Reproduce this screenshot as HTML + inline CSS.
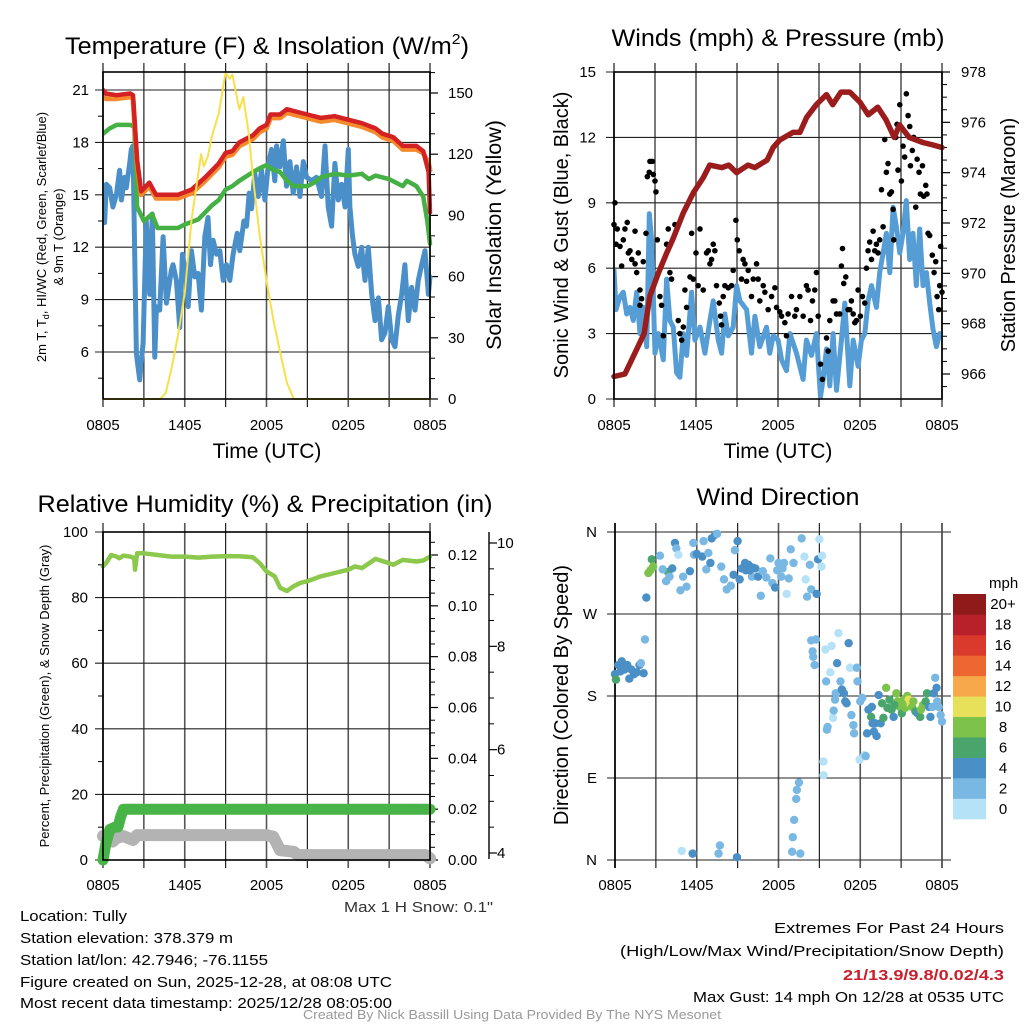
<!DOCTYPE html>
<html><head><meta charset="utf-8"><style>
html,body{margin:0;padding:0;background:#fff;}
svg{display:block;font-family:"Liberation Sans",Arial,sans-serif;}
</style></head><body>
<svg id="fig" width="1024" height="1024" viewBox="0 0 1024 1024" xmlns="http://www.w3.org/2000/svg">
<rect width="1024" height="1024" fill="#fff"/>
<g id="p1"></g>
<g id="p2"></g>
<g id="p3"></g>
<g id="p4"></g>
<g font-size="24" text-anchor="middle" fill="#000">
<text x="267" y="54" textLength="404" lengthAdjust="spacingAndGlyphs">Temperature (F) &amp; Insolation (W/m<tspan font-size="15" dy="-10">2</tspan><tspan dy="10">)</tspan></text>
<text x="778" y="46" textLength="333" lengthAdjust="spacingAndGlyphs">Winds (mph) &amp; Pressure (mb)</text>
<text x="265" y="512" textLength="455" lengthAdjust="spacingAndGlyphs">Relative Humidity (%) &amp; Precipitation (in)</text>
<text x="778" y="505" textLength="163" lengthAdjust="spacingAndGlyphs">Wind Direction</text>
</g>
<g font-size="21" text-anchor="middle">
<text x="267" y="458">Time (UTC)</text>
<text x="778" y="458">Time (UTC)</text>
<text transform="translate(501,235) rotate(-90)" font-size="21.5">Solar Insolation (Yellow)</text>
<text transform="translate(568,235) rotate(-90)" font-size="20">Sonic Wind &amp; Gust (Blue, Black)</text>
<text transform="translate(1015,235) rotate(-90)" font-size="20">Station Pressure (Maroon)</text>
<text transform="translate(568,695) rotate(-90)" font-size="20">Direction (Colored By Speed)</text>
</g>
<g font-size="13" text-anchor="middle">
<text transform="translate(46,237) rotate(-90)">2m T, T<tspan font-size="9" dy="3">d</tspan><tspan dy="-3">, HI/WC (Red, Green, Scarlet/Blue)</tspan></text>
<text transform="translate(63,237) rotate(-90)">&amp; 9m T (Orange)</text>
<text transform="translate(49,696) rotate(-90)">Percent, Precipitation (Green), &amp; Snow Depth (Gray)</text>
</g>
<g font-size="15" fill="#000">
<text x="344" y="912" textLength="149" lengthAdjust="spacingAndGlyphs" fill="#333">Max 1 H Snow: 0.1"</text>
<text x="20" y="921" textLength="107" lengthAdjust="spacingAndGlyphs">Location: Tully</text>
<text x="20" y="943" textLength="213" lengthAdjust="spacingAndGlyphs">Station elevation: 378.379 m</text>
<text x="20" y="965" textLength="248" lengthAdjust="spacingAndGlyphs">Station lat/lon: 42.7946; -76.1155</text>
<text x="20" y="987" textLength="372" lengthAdjust="spacingAndGlyphs">Figure created on Sun, 2025-12-28, at 08:08 UTC</text>
<text x="20" y="1008" textLength="372" lengthAdjust="spacingAndGlyphs">Most recent data timestamp: 2025/12/28 08:05:00</text>
<text x="774" y="933" textLength="230" lengthAdjust="spacingAndGlyphs">Extremes For Past 24 Hours</text>
<text x="620" y="956" textLength="384" lengthAdjust="spacingAndGlyphs">(High/Low/Max Wind/Precipitation/Snow Depth)</text>
<text x="843" y="980" textLength="161" lengthAdjust="spacingAndGlyphs" fill="#c8202c" font-weight="bold">21/13.9/9.8/0.02/4.3</text>
<text x="693" y="1002" textLength="311" lengthAdjust="spacingAndGlyphs">Max Gust: 14 mph On 12/28 at 0535 UTC</text>
<text x="303" y="1019" font-size="13" textLength="418" lengthAdjust="spacingAndGlyphs" fill="#999">Created By Nick Bassill Using Data Provided By The NYS Mesonet</text>
</g>
</svg>
<script>
// ---------- Panel 1 data ----------
const tempRed=[[0,21],[0.2,20.8],[1,20.7],[2,20.8],[2.2,20.7],[2.5,17],[2.8,15.2],[3.4,15.7],[3.9,15.0],[5.5,15.0],[6.5,15.3],[7.5,16.0],[8.5,16.8],[9.0,17.4],[9.5,17.5],[10,18.0],[11,18.4],[11.5,18.8],[12,19.0],[12.3,19.6],[13,19.6],[13.5,19.9],[14,19.8],[15,19.6],[16,19.4],[17,19.5],[18,19.3],[19,19.1],[20,18.8],[20.5,18.5],[21.3,18.3],[22,17.8],[23,17.8],[23.5,17.5],[23.9,16.3],[24,14.0]];
const tempOrange=[[0,20.7],[0.2,20.5],[1,20.5],[2,20.6],[2.2,20.5],[2.5,16.8],[2.8,15.0],[3.4,15.5],[3.9,14.8],[5.5,14.8],[6.5,15.1],[7.5,15.8],[8.5,16.6],[9.0,17.2],[9.5,17.3],[10,17.8],[11,18.2],[11.5,18.6],[12,18.8],[12.3,19.4],[13,19.4],[13.5,19.7],[14,19.6],[15,19.4],[16,19.2],[17,19.3],[18,19.1],[19,18.9],[20,18.6],[20.5,18.3],[21.3,18.1],[22,17.6],[23,17.6],[23.5,17.4],[23.9,16.8],[24,16.4]];
const dewGreen=[[0,18.5],[0.5,18.8],[1,19.0],[2,19.0],[2.3,18.9],[2.5,14.3],[3,13.5],[3.6,13.9],[4,13.1],[5.5,13.1],[6,13.3],[7,13.6],[7.5,14.0],[8,14.4],[8.5,14.7],[9,15.3],[9.5,15.5],[10,15.8],[11,16.3],[11.7,16.6],[12,16.7],[12.3,16.5],[13,16.3],[13.5,15.8],[14,15.5],[15,15.5],[15.5,15.7],[16,16.0],[17,16.2],[18,16.1],[19,16.2],[19.5,15.9],[20,16.1],[21,15.9],[22,15.5],[22.3,15.8],[23,15.5],[23.5,14.9],[23.8,13.5],[24,12.2]];
const chillHours=[0,0.12,0.24,0.49,0.73,0.98,1.22,1.35,1.59,1.71,1.96,2.08,2.2,2.33,2.45,2.69,2.82,2.94,3.18,3.43,3.62,3.8,3.92,4.16,4.41,4.65,5.02,5.14,5.39,5.63,5.83,6.07,6.25,6.49,6.74,6.98,7.22,7.47,7.71,7.89,8.08,8.33,8.57,8.82,9.06,9.31,9.55,9.85,10.04,10.34,10.53,10.73,10.9,11.14,11.39,11.63,11.88,12.12,12.37,12.61,12.74,12.98,13.23,13.47,13.72,13.96,14.2,14.45,14.7,14.94,15.31,15.67,16.04,16.29,16.53,16.78,17.02,17.27,17.51,17.76,18.0,18.12,18.32,18.49,18.74,18.98,19.23,19.47,19.72,19.96,20.21,20.45,20.7,20.94,21.19,21.43,21.67,21.92,22.16,22.41,22.65,22.9,23.14,23.39,23.63,23.88,24];
const chillValues=[14.7,13.4,15.6,15.4,14.3,15.0,16.4,14.7,16.0,15.4,16.8,17.6,17.8,11.6,5.9,4.4,5.5,6.5,13.5,9.3,13.9,5.7,8.6,8.4,12.6,8.8,10.7,11.0,10.1,7.4,11.6,10.5,8.6,11.8,10.3,10.5,8.4,12.6,13.7,11.0,12.4,11.6,11.8,10.1,11.0,10.1,11.6,12.8,11.8,13.5,13.2,15.1,14.2,16.2,14.9,16.4,14.7,16.6,17.6,15.8,17.8,16.6,18.1,15.5,16.9,15.1,16.6,14.9,16.9,16.0,15.8,16.0,14.9,17.8,14.3,13.2,16.8,14.7,15.6,14.3,17.6,14.3,12.6,11.6,10.9,12.0,10.1,12.0,9.3,7.8,9.1,6.7,7.1,8.6,6.7,6.3,8.1,9.3,11.0,7.8,9.7,8.4,10.1,11.0,11.8,9.3,10.3];
const solar=[[0,0],[4.2,0],[4.6,3],[5,14],[5.5,31],[6,52],[6.5,88],[7.2,120],[7.4,114],[7.7,119],[8,129],[8.5,140],[9,160],[9.3,157],[9.5,159],[10,142],[10.3,148],[10.7,130],[11,109],[11.5,80],[12,58],[12.5,39],[13,23],[13.5,8],[14,0],[24,0]];
const tempTicks=[6,9,12,15,18,21];
const solarTicks=[0,30,60,90,120,150];
const timeLabels=["0805","1405","2005","0205","0805"];
// ---------- Panel 2 data ----------
const pressure=[[0,965.9],[0.8,966.0],[1.5,966.8],[2.2,967.6],[2.63,969.1],[3.24,970.0],[3.85,970.8],[4.34,971.4],[5.07,972.4],[5.8,973.2],[6.53,973.8],[7.0,974.3],[7.87,974.2],[8.4,974.3],[8.97,974.0],[9.8,974.3],[10.3,974.2],[11.2,974.5],[11.65,975.0],[12.13,975.3],[13.1,975.6],[13.6,975.6],[14.1,976.2],[14.8,976.7],[15.55,977.1],[16.0,976.7],[16.6,977.2],[17.25,977.2],[18.0,976.8],[18.6,976.3],[19.3,976.6],[19.9,976.1],[20.5,975.4],[20.9,975.9],[21.6,975.4],[22.6,975.2],[23.35,975.1],[24,975.0]];
const windHours=[0,.15,.44,.68,.93,1.17,1.41,1.66,1.9,2.14,2.39,2.58,2.75,3.0,3.24,3.61,3.85,4.09,4.34,4.58,4.82,5.07,5.31,5.68,5.92,6.29,6.65,7.02,7.26,7.63,7.87,8.11,8.36,8.72,8.97,9.21,9.7,10.06,10.31,10.67,11.16,11.4,11.65,12.01,12.26,12.62,12.87,13.35,13.84,14.08,14.45,14.81,15.11,15.3,15.55,15.79,16.03,16.28,16.64,16.89,17.25,17.5,17.86,18.1,18.35,18.59,18.84,19.2,19.44,19.69,19.93,20.18,20.42,20.66,20.91,21.15,21.39,21.64,21.88,22.12,22.37,22.61,22.86,23.1,23.34,23.59,23.83,24];
const windValues=[5.9,4.1,4.7,4.9,3.9,4.2,3.6,4.9,3.0,4.2,2.4,8.5,7.3,2.1,3.0,1.8,5.5,3.6,3.3,1.2,1.0,3.0,2.0,4.9,2.7,3.3,2.1,3.6,4.5,2.7,2.1,3.9,2.9,3.3,5.2,4.5,4.1,2.1,3.8,2.4,3.3,2.1,2.9,2.7,1.8,1.3,3.0,2.1,0.9,2.7,2.0,3.0,0.1,0.9,2.3,0.6,3.0,0.4,2.7,4.4,0.6,2.7,1.5,2.7,3.0,4.5,5.2,4.2,5.8,6.7,7.6,5.8,8.8,7.9,6.7,7.6,9.1,6.4,7.6,5.2,7.8,5.2,5.8,4.4,3.2,2.4,3.0,3.0];
const gusts=[[0.07,9.0],[0,8.0],[0.24,7.8],[0.15,7.1],[0.44,7.0],[0.56,6.1],[0.68,7.3],[0.8,7.8],[0.97,8.1],[1.05,6.7],[1.17,6.8],[1.3,6.4],[1.54,6.2],[1.54,7.7],[1.66,5.8],[1.78,6.7],[1.9,5.0],[1.9,4.3],[2.02,4.6],[2.14,6.3],[2.34,7.6],[2.44,10.2],[2.58,10.4],[2.63,10.9],[2.8,10.9],[2.88,10.3],[3.0,10.0],[3.07,9.5],[3.17,7.3],[3.36,4.7],[3.48,4.3],[3.61,2.9],[3.85,7.1],[3.97,7.8],[4.09,5.8],[4.21,5.5],[4.46,8.0],[4.7,3.6],[4.82,3.0],[4.95,2.7],[5.07,3.3],[5.19,5.0],[5.31,4.2],[5.56,5.6],[5.68,7.6],[5.8,5.5],[6.0,6.7],[6.16,5.2],[6.29,7.8],[6.53,5.0],[6.77,6.7],[6.9,6.8],[7.02,6.2],[7.14,6.4],[7.26,7.1],[7.38,6.8],[7.5,5.2],[7.7,4.4],[7.8,3.8],[7.87,3.4],[7.99,4.7],[8.11,5.2],[8.36,5.1],[8.6,5.2],[8.72,5.9],[8.92,8.2],[9.02,7.3],[9.16,6.8],[9.33,5.5],[9.45,6.4],[9.58,6.2],[9.7,5.4],[9.82,5.9],[10.06,4.7],[10.19,5.5],[10.43,6.2],[10.55,5.5],[10.67,4.5],[10.92,5.2],[11.04,4.9],[11.28,4.1],[11.53,4.7],[11.77,5.1],[11.89,4.2],[12.13,4.0],[12.26,3.8],[12.5,3.5],[12.62,2.9],[12.74,3.9],[12.99,4.7],[13.23,3.8],[13.35,4.1],[13.6,4.7],[13.84,3.8],[14.08,5.2],[14.2,5.0],[14.38,3.6],[14.52,4.5],[14.69,5.0],[14.81,5.8],[14.94,3.8],[15.11,1.6],[15.25,0.9],[15.55,2.8],[15.67,2.2],[15.79,3.6],[16.03,4.5],[16.16,4.5],[16.28,3.9],[16.52,3.9],[16.64,6.1],[16.72,6.9],[16.81,5.3],[16.96,5.6],[17.13,4.1],[17.25,4.1],[17.37,4.5],[17.5,3.9],[17.62,3.5],[17.74,3.6],[17.86,5.0],[18.03,3.8],[18.18,4.7],[18.35,4.4],[18.47,6.0],[18.59,6.8],[18.71,7.2],[18.84,6.4],[18.96,7.7],[19.08,6.8],[19.2,7.1],[19.32,6.7],[19.44,7.3],[19.57,9.6],[19.69,7.9],[19.81,11.9],[19.93,10.4],[20.05,10.8],[20.18,9.4],[20.3,9.5],[20.42,8.7],[20.47,7.3],[20.61,12.0],[20.71,12.6],[20.78,10.5],[20.91,13.5],[21.03,10.0],[21.15,11.6],[21.27,11.1],[21.39,14.0],[21.52,13.0],[21.64,12.5],[21.69,10.7],[21.83,11.4],[21.93,12.0],[22.08,8.8],[22.18,11.0],[22.32,10.4],[22.42,9.4],[22.57,10.7],[22.66,9.3],[22.81,9.8],[22.9,9.4],[22.98,7.6],[23.1,7.5],[23.29,6.6],[23.42,5.8],[23.54,6.3],[23.64,4.7],[23.76,4.1],[23.83,5.2],[23.9,7.0],[24,4.9]];
const windTicks=[0,3,6,9,12,15];
const pressTicks=[966,968,970,972,974,976,978];
// ---------- Panel 3 data ----------
const rh=[[0,89.5],[0.3,91],[0.6,93],[1,92.5],[1.2,92],[1.5,92.8],[2,92.5],[2.3,92],[2.35,88.5],[2.5,93.5],[3,93.5],[4,93],[5,92.5],[6,92.5],[7,92.2],[8,92.5],[9,92.6],[10,92.6],[11,92.3],[11.5,90.5],[12,88],[12.6,86.5],[13,83],[13.5,82],[14,83.5],[14.5,84.5],[15,85],[16,86.5],[17,87.5],[18,88.5],[18.5,89.5],[19,89],[20,91.8],[21,90.5],[21.3,90],[22,91.5],[23,91],[23.5,91.3],[24,92.5]];
const precip=[[0,0],[0.2,0.006],[0.5,0.012],[0.9,0.013],[1.1,0.013],[1.3,0.017],[1.5,0.02],[24,0.02]];
const snow=[[0,7.3],[0.7,5.6],[1,6.7],[1.5,7.3],[2.2,6.1],[2.5,7.6],[12,7.6],[12.5,7.1],[13,3.0],[14,2.5],[14.3,1.5],[23.7,1.5],[24,0.5]];
const rhTicks=[0,20,40,60,80,100];
const precipTicks=[0,0.02,0.04,0.06,0.08,0.10,0.12];
const snowTicks=[4,6,8,10];
// ---------- Panel 4 data ----------
const dirPts=[[0,204,5],[0.07,198,7],[0.25,214,5],[0.5,218,5],[0.7,209,5],[0.9,214,5],[1.05,199,5],[1.2,209,5],[1.4,204,5],[1.6,206,5],[1.8,214,5],[1.9,216,3],[2.1,205,5],[0.4,207,5],[0.8,211,5],[2.2,242,3],[2.3,288,5],[2.45,315,9],[2.6,318,9],[2.7,330,7],[2.8,322,9],[3.9,316,7],[3.3,334,3],[3.5,319,3],[3.75,306,3],[4.0,311,3],[4.2,320,5],[4.4,348,5],[4.5,342,3],[4.65,335,1],[4.8,296,3],[5.0,311,3],[5.25,300,3],[5.5,317,5],[5.75,348,3],[5.8,335,3],[6.0,336,5],[6.4,333,5],[6.5,350,3],[6.7,319,3],[6.85,337,3],[7.0,326,5],[7.1,353,5],[7.35,357,5],[7.5,358,3],[7.8,322,3],[8.0,308,3],[8.2,297,3],[8.5,301,3],[8.7,313,5],[8.8,340,3],[9.0,350,5],[9.15,308,5],[9.3,320,5],[9.55,326,5],[9.8,324,5],[10.05,311,3],[10.3,320,5],[10.5,311,5],[10.7,290,3],[10.85,317,3],[11.1,310,3],[11.4,331,3],[11.55,304,3],[11.75,299,5],[12.0,326,3],[12.2,311,3],[12.4,326,3],[12.6,292,1],[12.75,309,3],[12.9,341,3],[13.1,326,3],[13.7,353,3],[13.9,333,1],[14.0,308,1],[14.1,289,3],[14.3,324,3],[14.4,297,3],[14.8,292,5],[14.9,330,5],[15.0,352,1],[15.15,322,1],[15.2,334,1],[9.6,318,5],[9.9,318,5],[10.1,321,5],[11.9,318,3],[12.3,320,3],
[4.9,10,1],[5.7,7,5],[7.6,7,3],[7.7,16,3],[8.95,3,5],[13.0,9,3],[13.05,25,3],[13.15,44,3],[13.3,67,3],[13.35,77,3],[13.5,85,3],[13.6,7,3],
[14.4,241,3],[14.5,229,3],[14.55,223,3],[14.65,214,3],[14.75,242,3],[15.3,108,1],[15.3,93,1],[15.45,231,1],[15.5,196,3],[15.55,143,3],[15.6,146,3],[15.8,206,1],[15.9,235,1],[16.0,156,1],[16.05,164,3],[16.15,176,3],[16.2,183,3],[16.3,216,5],[16.4,249,1],[16.55,196,3],[16.65,187,5],[16.8,183,5],[16.9,174,5],[17.0,172,5],[17.15,238,5],[17.25,211,1],[17.35,159,3],[17.5,148,3],[17.55,139,3],[17.75,211,3],[17.8,196,3],[17.95,110,1],[18.0,174,3],[18.15,178,3],[18.3,115,1],[18.4,114,3],[18.5,139,5],[18.6,165,5],[18.8,157,7],[18.85,168,5],[19.0,141,5],[19.2,136,5],[19.35,181,5],[19.5,150,5],[19.6,172,7],[19.7,156,7],[19.9,189,9],[20.0,167,7],[20.15,176,7],[20.3,165,7],[20.45,157,5],[20.65,183,9],[20.75,174,9],[20.9,168,9],[21.05,161,7],[21.2,176,9],[21.3,167,9],[21.45,180,9],[21.55,176,11],[21.65,172,11],[21.8,168,9],[21.9,174,9],[22.05,163,7],[22.2,161,5],[22.4,157,7],[22.45,165,9],[22.6,170,9],[22.8,174,7],[22.9,183,7],[23.05,168,5],[23.15,157,5],[23.3,168,3],[23.4,183,5],[23.5,200,3],[23.6,189,5],[23.65,174,3],[23.75,168,3],[23.9,159,3],[24.0,152,3],[18.9,150,5],[19.1,150,5],[20.5,170,7],[21.1,171,9]];
const dirLabels=["N","E","S","W","N"];
const speedBins=["0","2","4","6","8","10","12","14","16","18","20+"];
const speedColors=["#b5e2f7","#7ab8e4","#4a8fc6","#4aa56c","#7dc24a","#e6e05a","#f6a84a","#ee6630","#d93a2b","#b8202a","#8f1a1a"];

const NS="http://www.w3.org/2000/svg";
function mk(parent,tag,attrs,text){const e=document.createElementNS(NS,tag);for(const k in attrs)e.setAttribute(k,attrs[k]);if(text!==undefined)e.textContent=text;parent.appendChild(e);return e;}
function lin(d0,d1,r0,r1){return v=>r0+(v-d0)/(d1-d0)*(r1-r0);}
function pathOf(pts,sx,sy){return pts.map((p,i)=>(i?'L':'M')+sx(p[0]).toFixed(1)+' '+sy(p[1]).toFixed(1)).join(' ');}

function frame(g,x0,x1,y0,y1,gridY,sy,opt){
  const sx=lin(0,24,x0,x1);
  for(let h=0;h<=24;h+=3){
    const l=mk(g,'line',{x1:sx(h),x2:sx(h),y1:y0-9,y2:y1+8,stroke:(h%6===0)?'#555':'#222','stroke-width':(h%6===0)?1.6:1.2});
    
    
  }
  gridY.forEach(v=>{
    const l=mk(g,'line',{x1:x0-8,x2:opt.gx1||x1,y1:sy(v),y2:sy(v),stroke:'#222','stroke-width':1.1});
    
    
  });
  timeLabels.forEach((t,i)=>{
    const e=mk(g,'text',{x:sx(i*6),y:opt.ty,'font-size':15,'text-anchor':'middle'},t);
    
    
  });
  return sx;
}
function box(g,x0,x1,y0,y1){
  const r=mk(g,'rect',{x:x0,y:y0,width:x1-x0,height:y1-y0,fill:'none',stroke:'#000','stroke-width':1.6});
  
  
}
function leftLabels(g,ticks,sy,x,fmt){
  ticks.forEach(v=>{const e=mk(g,'text',{x:x,y:sy(v)+5,'font-size':15,'text-anchor':'end'},fmt?fmt(v):v);
  
  });
}
function rightAxis(g,xa,ticks,minor,sy,lx,fmt,name){
  ticks.forEach(v=>{mk(g,'line',{x1:xa,x2:xa+8,y1:sy(v),y2:sy(v),stroke:'#000','stroke-width':1.2});
    const e=mk(g,'text',{x:lx,y:sy(v)+5,'font-size':15},fmt?fmt(v):v);
    
    });
  minor.forEach(v=>mk(g,'line',{x1:xa,x2:xa+5,y1:sy(v),y2:sy(v),stroke:'#000','stroke-width':1}));
}
function series(g,pts,sx,sy,color,w,name){
  const p=mk(g,'path',{d:pathOf(pts,sx,sy),fill:'none',stroke:color,'stroke-width':w,'stroke-linejoin':'round','stroke-linecap':'round'});
  
  
}
function range(a,b,s){const r=[];for(let v=a;v<=b+1e-9;v+=s)r.push(+v.toFixed(4));return r;}

// ---------- Panel 1 ----------
(function(){
  const g=document.getElementById('p1');const x0=103,x1=430,y0=72,y1=399;
  const sy=lin(6,21,352,90), ss=lin(0,150,399,93);
  const sx=frame(g,x0,x1,y0,y1,tempTicks,sy,{ty:430});
  range(4.5,19.5,3).forEach(v=>mk(g,'line',{x1:x0-5,x2:x0,y1:sy(v),y2:sy(v),stroke:'#000'}));
  leftLabels(g,tempTicks,sy,89);
  rightAxis(g,x1,solarTicks,range(10,160,10).filter(v=>v%30),ss,448,null,'solar-tick-label');
  const cp=mk(mk(g,'defs',{}),'clipPath',{id:'c1'});mk(cp,'rect',{x:x0,y:y0,width:x1-x0+6,height:y1-y0});
  const cg=mk(g,'g',{'clip-path':'url(#c1)'});
  series(cg,chillHours.map((h,i)=>[h,chillValues[i]]),sx,sy,'#4b8fc8',5,'wind-chill-line');
  series(cg,dewGreen,sx,sy,'#45b044',4.5,'dewpoint-line');
  series(cg,tempOrange,sx,sy,'#f58a2c',5,'9m-temperature-line');
  series(cg,tempRed,sx,sy,'#d42224',4.5,'temperature-line');
  series(g,solar,sx,ss,'#f8e04a',2,'solar-insolation-line');
  box(g,x0,x1,y0,y1);
})();
// ---------- Panel 2 ----------
(function(){
  const g=document.getElementById('p2');const x0=614,x1=942,y0=72,y1=399;
  const sy=lin(0,15,399,72), sp=lin(966,978,374,72);
  const sx=frame(g,x0,x1,y0,y1,windTicks,sy,{ty:430});
  leftLabels(g,windTicks,sy,596);
  rightAxis(g,x1,pressTicks,range(965.5,977.5,0.5).filter(v=>v%2),sp,961,null,'pressure-tick-label');
  const cp=mk(mk(g,'defs',{}),'clipPath',{id:'c2'});mk(cp,'rect',{x:x0,y:y0,width:x1-x0,height:y1-y0});
  const cg=mk(g,'g',{'clip-path':'url(#c2)'});
  series(cg,windHours.map((h,i)=>[h,windValues[i]]),sx,sy,'#569dd5',5,'sonic-wind-line');
  gusts.forEach(p=>{const c=mk(g,'circle',{cx:sx(p[0]),cy:sy(p[1]),r:2.8,fill:'#000'});
    
    });
  series(g,pressure,sx,sp,'#9b1c1c',5.5,'pressure-line');
  box(g,x0,x1,y0,y1);
})();
// ---------- Panel 3 ----------
(function(){
  const g=document.getElementById('p3');const x0=103,x1=430,y0=532,y1=860;
  const sy=lin(0,100,860,532), sp=lin(0,0.12,860,555), sn=lin(4,10,853,543);
  const sx=frame(g,x0,x1,y0,y1,rhTicks,sy,{ty:890});
  range(10,90,20).forEach(v=>mk(g,'line',{x1:x0-5,x2:x0,y1:sy(v),y2:sy(v),stroke:'#000'}));
  leftLabels(g,rhTicks,sy,88);
  rightAxis(g,x1,precipTicks,range(0.005,0.125,0.005).filter(v=>Math.round(v*1000)%20),sp,448,v=>v.toFixed(2),'precip-tick-label');
  mk(g,'line',{x1:489,x2:489,y1:532,y2:859,stroke:'#000','stroke-width':1.4});
  rightAxis(g,489,snowTicks,range(4.5,10,0.5).filter(v=>v%2),sn,497,null,'snow-tick-label');
  series(g,snow,sx,sy,'#b3b3b3',12,'snow-depth-line');
  series(g,precip,sx,sp,'#48b447',11,'precipitation-line');
  series(g,rh,sx,sy,'#8cc84b',4.5,'relative-humidity-line');
  box(g,x0,x1,y0,y1);
})();
// ---------- Panel 4 ----------
(function(){
  const g=document.getElementById('p4');const x0=615,x1=942,y0=532,y1=860;
  const sy=lin(0,360,860,532);
  const dirTicks=[0,90,180,270,360];
  const sx=frame(g,x0,x1,y0,y1,dirTicks,sy,{ty:890,gx1:951});
  dirTicks.forEach((v,i)=>{const e=mk(g,'text',{x:597,y:sy(v)+5,'font-size':15,'text-anchor':'end'},dirLabels[i]);
    
    });
  mk(g,'line',{x1:x1,x2:x1,y1:y0-9,y2:y1+8,stroke:'#555','stroke-width':1.6});
  mk(g,'line',{x1:x0,x2:x0,y1:y0-9,y2:y1+8,stroke:'#000','stroke-width':1.6});
  dirPts.forEach(p=>{const b=Math.min(10,Math.floor(p[2]/2));
    const c=mk(g,'circle',{cx:sx(p[0]),cy:sy(p[1]),r:4.2,fill:speedColors[b]});
    
    });
  const cb=mk(g,'g',{});
  
  
  const bh=(819-594)/speedBins.length;
  speedBins.forEach((lab,i)=>{const y=819-(i+1)*bh;
    const r=mk(cb,'rect',{x:953,y:y,width:33,height:bh+0.3,fill:speedColors[i]});
    
    
    const t=mk(cb,'text',{x:1003,y:y+bh/2+5,'font-size':15,'text-anchor':'middle'},lab);
    
    });
  const u=mk(cb,'text',{x:989,y:588,'font-size':15},'mph');
  
  
})();
</script>
</body></html>
